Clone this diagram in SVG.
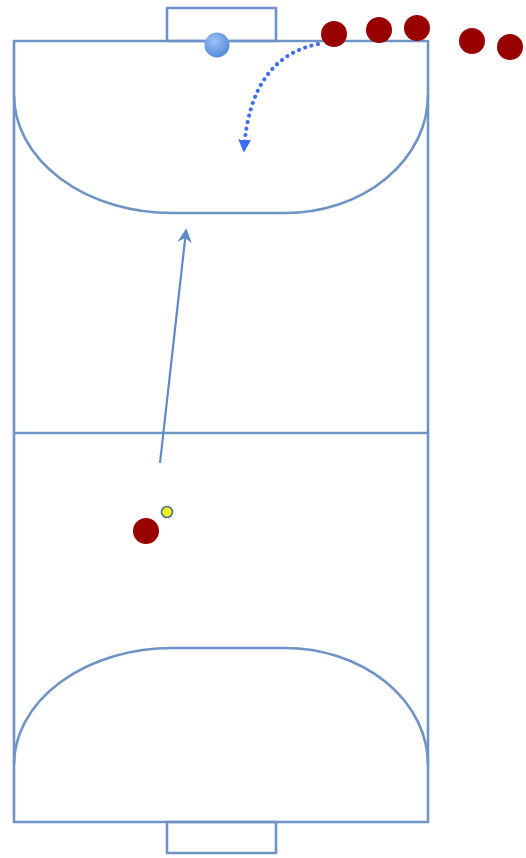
<svg xmlns="http://www.w3.org/2000/svg" width="526" height="858" viewBox="0 0 526 858">
<defs>
<style>
.ln{fill:none;stroke:#6f93c6;stroke-width:2.6;stroke-linejoin:round}
.pl{fill:#990000}
</style>
<radialGradient id="bb" cx="0.4" cy="0.35" r="0.7"><stop offset="0" stop-color="#9cc2f5"/><stop offset="1" stop-color="#4f88d8"/></radialGradient>
<marker id="ah" viewBox="0 0 10 10" refX="8" refY="5" markerWidth="3.2" markerHeight="3.2" orient="auto"><path d="M0,0 L10,5 L0,10 Z" fill="#3d6ef2"/></marker>
<marker id="ah2" viewBox="0 0 10 10" refX="8" refY="5" markerWidth="6.5" markerHeight="6.5" orient="auto"><path d="M0,0 L10,5 L0,10 L3,5 Z" fill="#5f8ac8"/></marker>
</defs>
<rect width="526" height="858" fill="#fff"/>
<g id="court">
<rect class="ln" x="14" y="41" width="414" height="781"/>
<rect class="ln" x="167" y="8" width="109" height="33"/>
<rect class="ln" x="167" y="822" width="109" height="31"/>
<line class="ln" x1="14" y1="433" x2="428" y2="433"/>
<path class="ln" d="M14,95 A158,118 0 0 0 172,213 L285,213 A143,118 0 0 0 428,95"/>
<path class="ln" d="M14,765 A158,117 0 0 1 172,648 L285,648 A143,117 0 0 1 428,765"/>
</g>
<g id="connectors">
<path d="M318,44 Q250,58 244,150" fill="none" stroke="#3d6ef2" stroke-width="4" stroke-linecap="round" stroke-dasharray="0.1 6.5" marker-end="url(#ah)"/>
<line x1="160" y1="463" x2="186" y2="231" stroke="#5f8ac8" stroke-width="2.2" marker-end="url(#ah2)"/>
</g>
<g id="ball-blue"><circle cx="217" cy="45" r="12.5" fill="url(#bb)"/></g>
<g id="p1"><circle class="pl" cx="334" cy="34" r="13"/></g>
<g id="p2"><circle class="pl" cx="379" cy="30" r="13"/></g>
<g id="p3"><circle class="pl" cx="417" cy="28" r="13"/></g>
<g id="p4"><circle class="pl" cx="472" cy="41" r="13"/></g>
<g id="p5"><circle class="pl" cx="510" cy="47" r="13"/></g>
<g id="p6"><circle class="pl" cx="146" cy="531" r="13"/></g>
<g id="ball-yellow"><circle cx="167" cy="512" r="5.5" fill="#f2f21a" stroke="#4a6f9a" stroke-width="1.6"/></g>
</svg>
